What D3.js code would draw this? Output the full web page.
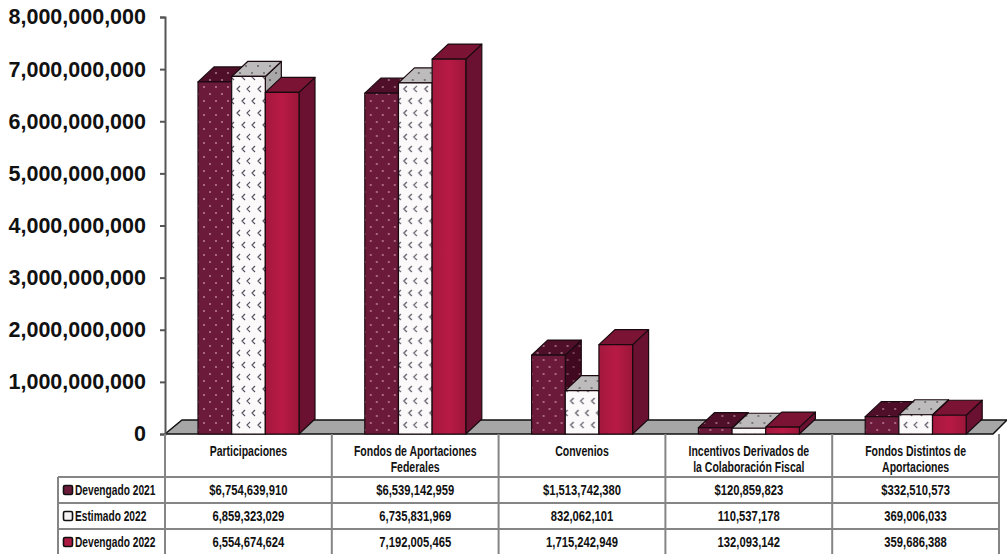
<!DOCTYPE html>
<html>
<head>
<meta charset="utf-8">
<script src="https://cdn.jsdelivr.net/npm/d3@7"></script>
<style>
  html, body { margin: 0; padding: 0; background: #fff; overflow: hidden; }
  svg { display: block; }
  .cell { font-family: "Liberation Sans", Arial, sans-serif; font-weight: bold; font-size: 15px; fill: #111; }
  .head { font-size: 14px; }
</style>
</head>
<body>
<div id="chart"></div>
<script>
const categories = ['Participaciones', 'Fondos de Aportaciones Federales', 'Convenios', 'Incentivos Derivados de la Colaboración Fiscal', 'Fondos Distintos de Aportaciones'];
const categoryLines = [['Participaciones'], ['Fondos de Aportaciones', 'Federales'], ['Convenios'], ['Incentivos Derivados de', 'la Colaboración Fiscal'], ['Fondos Distintos de', 'Aportaciones']];
const seriesNames = ['Devengado 2021', 'Estimado 2022', 'Devengado 2022'];
const devengado2021 = [6754639910, 6539142959, 1513742380, 120859823, 332510573];
const estimado2022 = [6859323029, 6735831969, 832062101, 110537178, 369006033];
const devengado2022 = [6554674624, 7192005465, 1715242949, 132093142, 359686388];
const yTicks = [0, 1e9, 2e9, 3e9, 4e9, 5e9, 6e9, 7e9, 8e9];

const seriesValues = [devengado2021, estimado2022, devengado2022];

const width = 1007, height = 554;
const depthX = 16, depthY = 15;   // 3d offset of the bars
const tableTop = 434, rowTops = [477, 503, 529], rowH = 26;
const squeeze = 0.75;             // no condensed font here, so narrow the text by hand
const grid = '#858585';

const svg = d3.select('#chart').append('svg')
  .attr('width', width)
  .attr('height', height);

// fill patterns for the faces
const defs = svg.append('defs');

function dotted(id, bg, fg) {
  const p = defs.append('pattern').attr('id', id)
    .attr('width', 12).attr('height', 14)
    .attr('patternUnits', 'userSpaceOnUse');
  p.append('rect').attr('width', 12).attr('height', 14).attr('fill', bg);
  p.append('circle').attr('cx', 3).attr('cy', 3).attr('r', 0.9).attr('fill', fg);
  p.append('circle').attr('cx', 9).attr('cy', 10).attr('r', 0.9).attr('fill', fg);
}
function chevrons(id, bg, fg) {
  const p = defs.append('pattern').attr('id', id)
    .attr('width', 21).attr('height', 24)
    .attr('patternUnits', 'userSpaceOnUse');
  p.append('rect').attr('width', 21).attr('height', 24).attr('fill', bg);
  p.append('path').attr('d', 'M6 2 L3 5 L6 8 M17 2 L14 5 L17 8 M12 14 L9 17 L12 20 M22 14 L19 17 L22 20 M1 14 L-2 17 L1 20')
    .attr('fill', 'none').attr('stroke', fg).attr('stroke-width', 1.2);
}
dotted('front0', '#6c1a3a', '#c98aa2');
dotted('top0', '#4f0f28', '#b9869a');
dotted('side0', '#41091f', '#8d5a6e');
chevrons('front1', '#fbf9fa', '#5a5260');
dotted('top1', '#bdbbbc', '#5a5a5a');
dotted('side1', '#a9a7a8', '#4a4a4a');

// the solid bar is a little lighter in the middle
const shade = defs.append('linearGradient').attr('id', 'front2');
shade.append('stop').attr('offset', '0%').attr('stop-color', '#a3183e');
shade.append('stop').attr('offset', '50%').attr('stop-color', '#b81a45');
shade.append('stop').attr('offset', '100%').attr('stop-color', '#9c163a');

const frontFill = ['url(#front0)', 'url(#front1)', 'url(#front2)'];
const topFill = ['url(#top0)', 'url(#top1)', '#7b1434'];
const sideFill = ['url(#side0)', 'url(#side1)', '#6a1030'];

const x0 = d3.scaleBand().domain(categories).range([165, 999]);
const x1 = d3.scaleBand().domain(seriesNames).range([33, 134]);
const y = d3.scaleLinear().domain([0, 8e9]).range([tableTop, 17]);

// floor
const floorH = 14;
svg.append('path')
  .attr('d', `M165 ${tableTop} L${165 + 17} ${tableTop - floorH} L${width} ${tableTop - floorH} L${width - 14} ${tableTop} Z`)
  .attr('fill', '#a6a6a6')
  .attr('stroke', '#111')
  .attr('stroke-width', 1.5);

// bars, left to right so the front of each one covers the side of the last
const groups = svg.selectAll('g.group')
  .data(categories)
  .join('g')
  .attr('class', 'group')
  .attr('transform', d => `translate(${x0(d)},0)`);

groups.each(function (cat, c) {
  const g = d3.select(this);
  seriesNames.forEach((name, s) => {
    const xa = x1(name), xb = xa + x1.bandwidth();
    const yt = y(seriesValues[s][c]), yb = y(0);
    const bar = g.append('g')
      .attr('stroke', '#1a0a10')
      .attr('stroke-width', 1.2)
      .attr('stroke-linejoin', 'round');
    bar.append('path')
      .attr('d', `M${xb} ${yt} L${xb + depthX} ${yt - depthY} L${xb + depthX} ${yb - depthY} L${xb} ${yb} Z`)
      .attr('fill', sideFill[s]);
    bar.append('path')
      .attr('d', `M${xa} ${yt} L${xa + depthX} ${yt - depthY} L${xb + depthX} ${yt - depthY} L${xb} ${yt} Z`)
      .attr('fill', topFill[s]);
    bar.append('rect')
      .attr('x', xa).attr('y', yt)
      .attr('width', x1.bandwidth()).attr('height', yb - yt)
      .attr('fill', frontFill[s]);
  });
});

// y axis
const yAxis = svg.append('g')
  .attr('transform', 'translate(165,0)')
  .call(d3.axisLeft(y).tickValues(yTicks).tickFormat(d3.format(',')).tickSize(5).tickPadding(14));
yAxis.selectAll('path, line').attr('stroke', '#555').attr('stroke-width', 2);
yAxis.selectAll('text')
  .attr('fill', '#111')
  .style('font-family', '"Liberation Sans", Arial, sans-serif')
  .style('font-weight', 'bold')
  .style('font-size', '21.5px');

// data table
const table = svg.append('g');
const colEdges = categories.map(d => x0(d)).concat([x0.range()[1]]);

table.selectAll('line.col')
  .data(colEdges)
  .join('line')
  .attr('class', 'col')
  .attr('x1', d => d).attr('x2', d => d)
  .attr('y1', tableTop).attr('y2', height)
  .attr('stroke', grid).attr('stroke-width', 2);

table.append('line')
  .attr('x1', 58).attr('x2', 58)
  .attr('y1', rowTops[0]).attr('y2', height)
  .attr('stroke', grid).attr('stroke-width', 2);

table.selectAll('line.row')
  .data(rowTops)
  .join('line')
  .attr('class', 'row')
  .attr('x1', 58).attr('x2', 999)
  .attr('y1', d => d).attr('y2', d => d)
  .attr('stroke', grid).attr('stroke-width', 2);

function cellText(px, py, str, anchor, cls, sx) {
  table.append('text')
    .attr('class', cls)
    .attr('text-anchor', anchor)
    .attr('transform', `translate(${px},${py}) scale(${sx || squeeze},1)`)
    .text(str);
}

// header cells
categories.forEach((cat, c) => {
  categoryLines[c].forEach((line, i) => {
    cellText(x0(cat) + x0.bandwidth() / 2, 456 + i * 16, line, 'middle', 'cell head');
  });
});

// value rows
const fmt = d3.format(',');
seriesNames.forEach((name, s) => {
  const top = rowTops[s];
  table.append('rect')
    .attr('x', 63.5).attr('y', top + rowH / 2 - 4.5)
    .attr('width', 9).attr('height', 9).attr('rx', 1.5)
    .attr('fill', ['#6c1a3a', '#f4f2f3', '#ad1a42'][s])
    .attr('stroke', '#111').attr('stroke-width', 1.6);
  cellText(75, top + rowH / 2 + 5, name, 'start', 'cell', 0.68);
  categories.forEach((cat, c) => {
    cellText(x0(cat) + x0.bandwidth() / 2, top + rowH / 2 + 5, (s === 0 ? '$' : '') + fmt(seriesValues[s][c]), 'middle', 'cell');
  });
});
</script>
</body>
</html>
